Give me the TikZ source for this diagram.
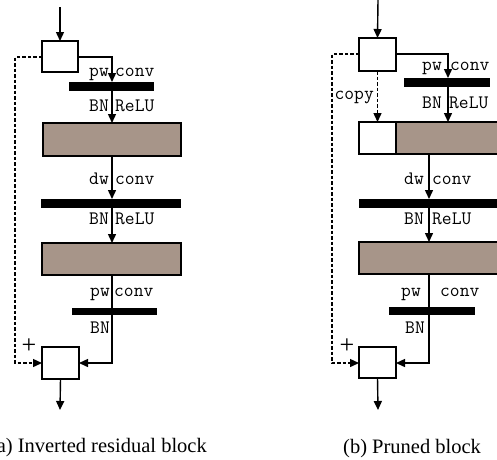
\documentclass[tikz,border=0pt]{standalone}
\usepackage{fontspec}
\setmainfont{Liberation Serif}
\usetikzlibrary{arrows.meta}
\definecolor{brownfill}{RGB}{167,149,137}
\begin{document}
\begin{tikzpicture}[x=1pt,y=-1pt,
  box/.style={draw,line width=1.4pt,fill=white,inner sep=0,outer sep=0,anchor=north west},
  brownbox/.style={box,fill=brownfill},
  bar/.style={fill=black,inner sep=0,outer sep=0,anchor=north west},
  lbl/.style={font=\ttfamily\fontsize{19}{20}\selectfont,inner sep=0},
  conn/.style={line width=1.4pt,-{Triangle[length=9pt,width=8pt]}},
  plainline/.style={line width=1.4pt},
  dashconn/.style={conn,dash pattern=on 3.5pt off 2pt},
  captext/.style={font=\fontsize{20.5}{22}\selectfont,inner sep=0},
  plussign/.style={font=\fontsize{26}{27}\selectfont,inner sep=0}
]
\useasboundingbox (0,0) rectangle (497,459);
\clip (0,0) rectangle (497,459);

% ---------------- left panel ----------------
\node[box,minimum width=36pt,minimum height=31pt] (ain) at (42,41) {};
\node[bar,minimum width=85pt,minimum height=9pt] (abar1) at (69,82) {};
\node[brownbox,minimum width=138pt,minimum height=33pt] (abrown1) at (43,123) {};
\node[bar,minimum width=140pt,minimum height=9pt] (abar2) at (41,199) {};
\node[brownbox,minimum width=139pt,minimum height=32pt] (abrown2) at (42,243) {};
\node[bar,minimum width=85pt,minimum height=7pt] (abar3) at (72,308) {};
\node[box,minimum width=37pt,minimum height=32pt] (aout) at (42,347) {};
\coordinate (atop) at (60,7);
\coordinate (aend) at (60,410);
\coordinate (ar1) at (112,57);
\coordinate (ar2) at (112,363);
\coordinate (al1) at (15,57);
\coordinate (al2) at (15,363);

\draw[conn] (atop) -- (ain.north);
\draw[conn] (ain.east |- ar1) -- (ar1) -- (ar1 |- abar1.north);
\draw[conn] (ar1 |- abar1.south) -- (ar1 |- abrown1.north);
\draw[conn] (ar1 |- abrown1.south) -- (ar1 |- abar2.north);
\draw[conn] (ar1 |- abar2.south) -- (ar1 |- abrown2.north);
\draw[plainline] (ar1 |- abrown2.south) -- (ar1 |- abar3.north);
\draw[conn] (ar1 |- abar3.south) -- (ar2) -- (aout.east |- ar2);
\draw[dashconn] (ain.west |- al1) -- (al1) -- (al2) -- (aout.west |- al2);
\draw[conn] (aout.south) -- (aend);

\node[lbl,anchor=base east] (apw1) at (109,76) {pw};
\node[lbl,anchor=base west] (aconv1) at (115,76) {conv};
\node[lbl,anchor=base east] (abn1) at (109,111) {BN};
\node[lbl,anchor=base west] (arelu1) at (115,111) {ReLU};
\node[lbl,anchor=base east] (adw) at (109,184) {dw};
\node[lbl,anchor=base west] (aconv2) at (115,184) {conv};
\node[lbl,anchor=base east] (abn2) at (109,224) {BN};
\node[lbl,anchor=base west] (arelu2) at (115,224) {ReLU};
\node[lbl,anchor=base east] (apw3) at (110,296) {pw};
\node[lbl,anchor=base west] (aconv3) at (114,296) {conv};
\node[lbl,anchor=base east] (abn3) at (110,333) {BN};
\node[plussign] (aplus) at (29,346) {+};
\node[captext,anchor=base east] (acap) at (207,452) {(a)\ Inverted residual block};

% ---------------- right panel ----------------
\node[box,minimum width=37pt,minimum height=33pt] (bin) at (359,38) {};
\node[bar,minimum width=86pt,minimum height=9pt] (bbar1) at (404,78) {};
\node[brownbox,minimum width=102pt,minimum height=32pt] (bbrown1) at (396,122) {};
\node[box,minimum width=37pt,minimum height=32pt] (bwhite) at (359,122) {};
\node[bar,minimum width=140pt,minimum height=9pt] (bbar2) at (359,199) {};
\node[brownbox,minimum width=139pt,minimum height=32pt] (bbrown2) at (359,242) {};
\node[bar,minimum width=86pt,minimum height=8pt] (bbar3) at (389,307) {};
\node[box,minimum width=37pt,minimum height=31pt] (bout) at (359,347) {};
\coordinate (btop) at (378,0);
\coordinate (bend) at (378,410);
\coordinate (br1) at (448,54);
\coordinate (bm) at (429,160);
\coordinate (br2) at (429,363);
\coordinate (bl1) at (332,54);
\coordinate (bl2) at (332,363);

\draw[conn] (btop) -- (bin.north);
\draw[conn] (bin.east |- br1) -- (br1) -- (br1 |- bbar1.north);
\draw[conn] (br1 |- bbar1.south) -- (br1 |- bbrown1.north);
\draw[dashconn] (bin.south) -- (bwhite.north);
\draw[conn] (bm |- bbrown1.south) -- (bm |- bbar2.north);
\draw[conn] (bm |- bbar2.south) -- (bm |- bbrown2.north);
\draw[plainline] (bm |- bbrown2.south) -- (bm |- bbar3.north);
\draw[conn] (bm |- bbar3.south) -- (br2) -- (bout.east |- br2);
\draw[dashconn] (bin.west |- bl1) -- (bl1) -- (bl2) -- (bout.west |- bl2);
\draw[conn] (bout.south) -- (bend);

\node[lbl,anchor=base east] (bpw1) at (442,70) {pw};
\node[lbl,anchor=base west] (bconv1) at (450,70) {conv};
\node[lbl,anchor=base east] (bcopy) at (374,99) {copy};
\node[lbl,anchor=base east] (bbn1) at (442,108) {BN};
\node[lbl,anchor=base west] (brelu1) at (449,108) {ReLU};
\node[lbl,anchor=base east] (bdw) at (424,184) {dw};
\node[lbl,anchor=base west] (bconv2) at (432,184) {conv};
\node[lbl,anchor=base east] (bbn2) at (424,224) {BN};
\node[lbl,anchor=base west] (brelu2) at (432,224) {ReLU};
\node[lbl,anchor=base east] (bpw3) at (421,296) {pw};
\node[lbl,anchor=base west] (bconv3) at (440,296) {conv};
\node[lbl,anchor=base east] (bbn3) at (425,333) {BN};
\node[plussign] (bplus) at (347,346) {+};
\node[captext,anchor=base west] (bcap) at (343,453) {(b)\ Pruned block};
\end{tikzpicture}
\end{document}
